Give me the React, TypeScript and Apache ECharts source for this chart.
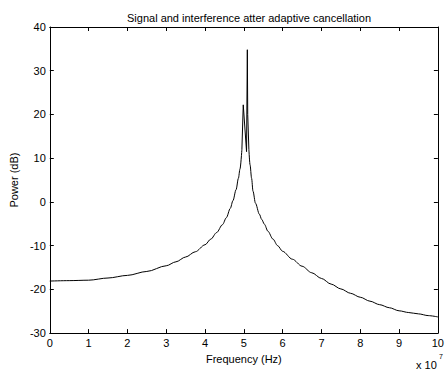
import React, { useEffect, useRef } from "react";
import * as echarts from "echarts";

const titleText = "Signal and interference atter adaptive cancellation";
const xName = "Frequency (Hz)";
const yName = "Power (dB)";
const xTicks = [0, 1, 2, 3, 4, 5, 6, 7, 8, 9, 10];
const yTicks = [-30, -20, -10, 0, 10, 20, 30, 40];

// frequency in units of 1e7 Hz
const freqLeft = [
  0, 0.5, 1, 1.5, 2, 2.5, 3, 3.25, 3.5, 3.75, 4, 4.15, 4.3, 4.45, 4.55, 4.65,
  4.72, 4.8, 4.86, 4.9, 4.95,
];
const powerLeft = [
  -18.1, -18.0, -17.9, -17.4, -16.8, -15.9, -14.6, -13.7, -12.6, -11.4, -9.8,
  -8.5, -7.0, -5.2, -3.6, -1.5, 0.3, 2.8, 5.4, 7.5, 12,
];
const freqPeak = [4.95, 4.985, 5.07, 5.09, 5.1, 5.13];
const powerPeak = [12, 22.2, 11.5, 34.8, 20, 12];
const freqRight = [
  5.13, 5.16, 5.2, 5.236, 5.3, 5.4, 5.46, 5.53, 5.62, 5.75, 5.87, 6, 6.25, 6.5,
  6.75, 7, 7.25, 7.5, 7.75, 8, 8.25, 8.5, 8.75, 9, 9.25, 9.5, 9.75, 10,
];
const powerRight = [
  12, 8.5, 5.4, 2.45, -0.3, -2.8, -4.0, -5.1, -6.7, -8.5, -10, -11.3, -13.1,
  -14.7, -16.2, -17.5, -18.8, -19.9, -20.9, -21.8, -22.7, -23.5, -24.2, -24.9,
  -25.3, -25.6, -26.0, -26.3,
];

export default function App() {
  const ref = useRef<HTMLDivElement>(null);
  useEffect(() => {
    const chart = echarts.init(ref.current!, null, { renderer: "svg" });
    const font = "Liberation Sans, Arial, sans-serif";
    const axisCommon = {
      axisLine: { show: true, onZero: false, lineStyle: { color: "#000", width: 1 } },
      axisTick: { show: true, inside: true, length: 4, lineStyle: { color: "#000" } },
      splitLine: { show: false },
    };
    const lineStyle = { color: "#000", width: 1 };
    chart.setOption({
      animation: false,
      backgroundColor: "#fff",
      title: {
        text: titleText,
        left: 244,
        textAlign: "center",
        top: 7,
        textStyle: { fontFamily: font, fontSize: 11, fontWeight: "normal", color: "#000" },
      },
      grid: { left: 47, right: 6, top: 27, bottom: 32, containLabel: false },
      xAxis: [
        {
          type: "value",
          min: xTicks[0],
          max: xTicks[xTicks.length - 1],
          interval: 1,
          position: "bottom",
          name: xName,
          nameLocation: "middle",
          nameGap: 18,
          nameTextStyle: { fontFamily: font, fontSize: 11, color: "#000" },
          axisLabel: { fontFamily: font, fontSize: 11, color: "#000", margin: 4 },
          ...axisCommon,
        },
        {
          type: "value",
          min: xTicks[0],
          max: xTicks[xTicks.length - 1],
          interval: 1,
          position: "top",
          axisLabel: { show: false },
          ...axisCommon,
        },
      ],
      yAxis: [
        {
          type: "value",
          min: yTicks[0],
          max: yTicks[yTicks.length - 1],
          interval: 10,
          position: "left",
          name: yName,
          nameLocation: "middle",
          nameGap: 26,
          nameTextStyle: { fontFamily: font, fontSize: 11, color: "#000" },
          axisLabel: { fontFamily: font, fontSize: 11, color: "#000", margin: 4 },
          ...axisCommon,
        },
        {
          type: "value",
          min: yTicks[0],
          max: yTicks[yTicks.length - 1],
          interval: 10,
          position: "right",
          axisLabel: { show: false },
          ...axisCommon,
        },
      ],
      graphic: [
        {
          type: "text",
          left: 416,
          top: 359,
          style: { text: "x 10", fontFamily: font, fontSize: 11, fill: "#000" },
        },
        {
          type: "text",
          left: 439,
          top: 353,
          style: { text: "7", fontFamily: font, fontSize: 7, fill: "#000" },
        },
      ],
      series: [
        {
          type: "line",
          data: freqLeft.map((f, i) => [f, powerLeft[i]]),
          showSymbol: false,
          symbol: "none",
          smooth: 0.3,
          smoothMonotone: "x",
          lineStyle,
        },
        {
          type: "line",
          data: freqPeak.map((f, i) => [f, powerPeak[i]]),
          showSymbol: false,
          symbol: "none",
          lineStyle,
        },
        {
          type: "line",
          data: freqRight.map((f, i) => [f, powerRight[i]]),
          showSymbol: false,
          symbol: "none",
          smooth: 0.3,
          smoothMonotone: "x",
          lineStyle,
        },
      ],
    });
    return () => chart.dispose();
  }, []);
  return <div ref={ref} style={{ width: 447, height: 369, position: "absolute", left: 0, top: 0 }} />;
}
